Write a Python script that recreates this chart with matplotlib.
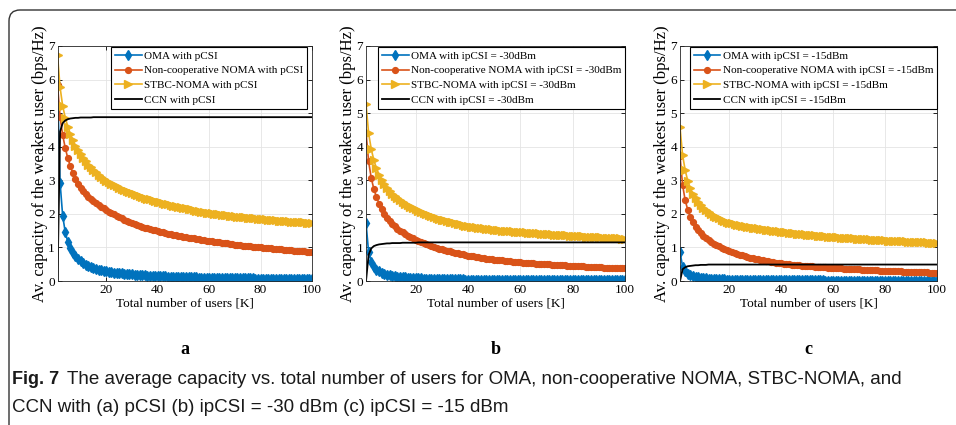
import matplotlib
matplotlib.use('Agg')
import matplotlib.pyplot as plt
import numpy as np
from matplotlib.patches import FancyBboxPatch
from matplotlib.transforms import IdentityTransform

# number of users K (one point per user count)
K = np.arange(1, 101)

# ---- (a) pCSI ----
oma_a = [5.85, 2.93, 1.95, 1.46, 1.17, 0.98, 0.84, 0.73, 0.65, 0.59,
         0.53, 0.49, 0.45, 0.42, 0.39, 0.37, 0.34, 0.33, 0.31, 0.29,
         0.28, 0.27, 0.25, 0.24, 0.23, 0.23, 0.22, 0.21, 0.20, 0.20,
         0.19, 0.18, 0.18, 0.17, 0.17, 0.16, 0.16, 0.15, 0.15, 0.15,
         0.14, 0.14, 0.14, 0.13, 0.13, 0.13, 0.12, 0.12, 0.12, 0.12,
         0.11, 0.11, 0.11, 0.11, 0.11, 0.10, 0.10, 0.10, 0.10, 0.10,
         0.10, 0.09, 0.09, 0.09, 0.09, 0.09, 0.09, 0.09, 0.08, 0.08,
         0.08, 0.08, 0.08, 0.08, 0.08, 0.08, 0.08, 0.07, 0.07, 0.07,
         0.07, 0.07, 0.07, 0.07, 0.07, 0.07, 0.07, 0.07, 0.07, 0.07,
         0.06, 0.06, 0.06, 0.06, 0.06, 0.06, 0.06, 0.06, 0.06, 0.06]
noma_a = [5.85, 4.89, 4.35, 3.97, 3.66, 3.42, 3.21, 3.04, 2.90, 2.78,
          2.68, 2.58, 2.50, 2.43, 2.37, 2.31, 2.26, 2.21, 2.16, 2.11,
          2.07, 2.03, 1.99, 1.95, 1.91, 1.87, 1.83, 1.80, 1.76, 1.73,
          1.70, 1.67, 1.64, 1.62, 1.59, 1.57, 1.55, 1.53, 1.51, 1.49,
          1.47, 1.45, 1.43, 1.41, 1.40, 1.38, 1.37, 1.35, 1.34, 1.32,
          1.31, 1.29, 1.28, 1.27, 1.25, 1.24, 1.23, 1.22, 1.20, 1.19,
          1.18, 1.17, 1.16, 1.15, 1.14, 1.13, 1.12, 1.11, 1.09, 1.08,
          1.07, 1.06, 1.05, 1.05, 1.04, 1.03, 1.02, 1.02, 1.01, 1.00,
          0.99, 0.98, 0.97, 0.97, 0.96, 0.95, 0.94, 0.94, 0.93, 0.92,
          0.91, 0.91, 0.90, 0.90, 0.89, 0.88, 0.88, 0.87, 0.87, 0.86]
stbc_a = [6.73, 5.77, 5.22, 4.87, 4.60, 4.38, 4.19, 4.03, 3.89, 3.77,
          3.66, 3.56, 3.47, 3.39, 3.31, 3.24, 3.17, 3.11, 3.05, 2.99,
          2.95, 2.90, 2.86, 2.82, 2.78, 2.74, 2.71, 2.67, 2.64, 2.61,
          2.58, 2.55, 2.52, 2.50, 2.47, 2.45, 2.43, 2.40, 2.38, 2.36,
          2.34, 2.32, 2.30, 2.28, 2.26, 2.24, 2.22, 2.21, 2.19, 2.17,
          2.16, 2.14, 2.13, 2.11, 2.10, 2.08, 2.07, 2.06, 2.04, 2.03,
          2.02, 2.01, 2.00, 1.99, 1.98, 1.97, 1.96, 1.95, 1.94, 1.93,
          1.92, 1.91, 1.90, 1.90, 1.89, 1.88, 1.87, 1.87, 1.86, 1.85,
          1.84, 1.84, 1.83, 1.82, 1.82, 1.81, 1.80, 1.80, 1.79, 1.79,
          1.78, 1.77, 1.77, 1.76, 1.76, 1.75, 1.75, 1.74, 1.74, 1.73]
ccn_a = [0.00, 4.45, 4.70, 4.78, 4.82, 4.84, 4.85, 4.86, 4.86, 4.87,
         4.87, 4.87, 4.87, 4.87, 4.88, 4.88, 4.88, 4.88, 4.88, 4.88,
         4.88, 4.88, 4.88, 4.88, 4.88, 4.88, 4.88, 4.88, 4.88, 4.88,
         4.88, 4.88, 4.88, 4.88, 4.88, 4.88, 4.88, 4.88, 4.88, 4.88,
         4.88, 4.88, 4.88, 4.88, 4.88, 4.88, 4.88, 4.88, 4.88, 4.88,
         4.88, 4.88, 4.88, 4.88, 4.88, 4.88, 4.88, 4.88, 4.88, 4.88,
         4.88, 4.88, 4.88, 4.88, 4.88, 4.88, 4.88, 4.88, 4.88, 4.88,
         4.88, 4.88, 4.88, 4.88, 4.88, 4.88, 4.88, 4.88, 4.88, 4.88,
         4.88, 4.88, 4.88, 4.88, 4.88, 4.88, 4.88, 4.88, 4.88, 4.88,
         4.88, 4.88, 4.88, 4.88, 4.88, 4.88, 4.88, 4.88, 4.88, 4.88]

# ---- (b) ipCSI = -30 dBm ----
oma_b = [1.74, 0.85, 0.57, 0.43, 0.34, 0.29, 0.25, 0.22, 0.19, 0.17,
         0.16, 0.14, 0.13, 0.12, 0.11, 0.11, 0.10, 0.10, 0.09, 0.09,
         0.08, 0.08, 0.07, 0.07, 0.07, 0.07, 0.06, 0.06, 0.06, 0.06,
         0.06, 0.05, 0.05, 0.05, 0.05, 0.05, 0.05, 0.05, 0.04, 0.04,
         0.04, 0.04, 0.04, 0.04, 0.04, 0.04, 0.04, 0.03, 0.03, 0.03,
         0.03, 0.03, 0.03, 0.03, 0.03, 0.03, 0.03, 0.03, 0.03, 0.03,
         0.03, 0.03, 0.03, 0.03, 0.03, 0.03, 0.03, 0.03, 0.03, 0.03,
         0.02, 0.02, 0.02, 0.02, 0.02, 0.02, 0.02, 0.02, 0.02, 0.02,
         0.02, 0.02, 0.02, 0.02, 0.02, 0.02, 0.02, 0.02, 0.02, 0.02,
         0.02, 0.02, 0.02, 0.02, 0.02, 0.02, 0.02, 0.02, 0.02, 0.02]
noma_b = [4.42, 3.56, 3.07, 2.74, 2.50, 2.30, 2.14, 2.00, 1.89, 1.79,
          1.71, 1.63, 1.56, 1.50, 1.45, 1.40, 1.35, 1.31, 1.27, 1.23,
          1.19, 1.16, 1.13, 1.10, 1.07, 1.04, 1.01, 0.99, 0.96, 0.94,
          0.92, 0.90, 0.88, 0.86, 0.84, 0.82, 0.80, 0.79, 0.77, 0.75,
          0.74, 0.73, 0.72, 0.71, 0.70, 0.68, 0.67, 0.66, 0.65, 0.64,
          0.63, 0.63, 0.62, 0.61, 0.60, 0.59, 0.58, 0.58, 0.57, 0.56,
          0.55, 0.55, 0.54, 0.54, 0.53, 0.52, 0.52, 0.51, 0.51, 0.50,
          0.50, 0.49, 0.49, 0.48, 0.48, 0.47, 0.47, 0.46, 0.46, 0.45,
          0.45, 0.44, 0.44, 0.44, 0.43, 0.43, 0.42, 0.42, 0.42, 0.41,
          0.41, 0.40, 0.40, 0.40, 0.39, 0.39, 0.39, 0.38, 0.38, 0.38]
stbc_b = [5.28, 4.40, 3.93, 3.60, 3.36, 3.17, 3.01, 2.88, 2.77, 2.68,
          2.60, 2.53, 2.46, 2.40, 2.35, 2.30, 2.25, 2.21, 2.17, 2.13,
          2.10, 2.06, 2.03, 2.00, 1.97, 1.94, 1.91, 1.88, 1.86, 1.83,
          1.81, 1.79, 1.77, 1.75, 1.73, 1.71, 1.69, 1.67, 1.65, 1.63,
          1.62, 1.61, 1.60, 1.59, 1.58, 1.57, 1.56, 1.55, 1.54, 1.53,
          1.52, 1.51, 1.50, 1.50, 1.49, 1.48, 1.48, 1.47, 1.47, 1.46,
          1.45, 1.45, 1.44, 1.43, 1.43, 1.42, 1.42, 1.41, 1.41, 1.40,
          1.40, 1.39, 1.38, 1.38, 1.37, 1.37, 1.36, 1.36, 1.35, 1.35,
          1.34, 1.34, 1.33, 1.33, 1.32, 1.32, 1.31, 1.31, 1.30, 1.30,
          1.30, 1.29, 1.29, 1.28, 1.28, 1.27, 1.27, 1.27, 1.26, 1.26]
ccn_b = [0.00, 0.78, 0.97, 1.04, 1.07, 1.09, 1.10, 1.11, 1.12, 1.12,
         1.13, 1.13, 1.13, 1.13, 1.14, 1.14, 1.14, 1.14, 1.14, 1.14,
         1.15, 1.15, 1.15, 1.15, 1.15, 1.15, 1.15, 1.15, 1.15, 1.15,
         1.15, 1.15, 1.15, 1.15, 1.15, 1.15, 1.15, 1.15, 1.15, 1.15,
         1.15, 1.15, 1.15, 1.15, 1.15, 1.15, 1.15, 1.15, 1.15, 1.15,
         1.15, 1.15, 1.15, 1.15, 1.15, 1.15, 1.15, 1.15, 1.15, 1.15,
         1.15, 1.15, 1.15, 1.15, 1.15, 1.15, 1.15, 1.15, 1.15, 1.15,
         1.15, 1.15, 1.15, 1.15, 1.15, 1.15, 1.15, 1.15, 1.15, 1.15,
         1.15, 1.15, 1.15, 1.15, 1.15, 1.15, 1.15, 1.15, 1.15, 1.15,
         1.15, 1.15, 1.15, 1.15, 1.15, 1.15, 1.15, 1.15, 1.15, 1.15]

# ---- (c) ipCSI = -15 dBm ----
oma_c = [0.86, 0.43, 0.29, 0.21, 0.17, 0.14, 0.12, 0.11, 0.09, 0.09,
         0.08, 0.07, 0.07, 0.06, 0.06, 0.05, 0.05, 0.05, 0.04, 0.04,
         0.04, 0.04, 0.04, 0.04, 0.03, 0.03, 0.03, 0.03, 0.03, 0.03,
         0.03, 0.03, 0.03, 0.03, 0.02, 0.02, 0.02, 0.02, 0.02, 0.02,
         0.02, 0.02, 0.02, 0.02, 0.02, 0.02, 0.02, 0.02, 0.02, 0.02,
         0.02, 0.02, 0.02, 0.02, 0.02, 0.02, 0.01, 0.01, 0.01, 0.01,
         0.01, 0.01, 0.01, 0.01, 0.01, 0.01, 0.01, 0.01, 0.01, 0.01,
         0.01, 0.01, 0.01, 0.01, 0.01, 0.01, 0.01, 0.01, 0.01, 0.01,
         0.01, 0.01, 0.01, 0.01, 0.01, 0.01, 0.01, 0.01, 0.01, 0.01,
         0.01, 0.01, 0.01, 0.01, 0.01, 0.01, 0.01, 0.01, 0.01, 0.01]
noma_c = [3.72, 2.86, 2.40, 2.12, 1.91, 1.75, 1.62, 1.52, 1.43, 1.35,
          1.28, 1.22, 1.16, 1.11, 1.07, 1.03, 0.99, 0.96, 0.92, 0.89,
          0.86, 0.83, 0.81, 0.78, 0.76, 0.74, 0.72, 0.70, 0.68, 0.66,
          0.65, 0.63, 0.62, 0.60, 0.59, 0.58, 0.56, 0.55, 0.54, 0.53,
          0.52, 0.51, 0.50, 0.49, 0.49, 0.48, 0.47, 0.46, 0.46, 0.45,
          0.44, 0.44, 0.43, 0.43, 0.42, 0.41, 0.41, 0.40, 0.40, 0.39,
          0.39, 0.38, 0.38, 0.37, 0.37, 0.36, 0.36, 0.36, 0.35, 0.35,
          0.34, 0.34, 0.33, 0.33, 0.33, 0.32, 0.32, 0.31, 0.31, 0.31,
          0.30, 0.30, 0.30, 0.29, 0.29, 0.29, 0.28, 0.28, 0.28, 0.27,
          0.27, 0.27, 0.26, 0.26, 0.26, 0.26, 0.25, 0.25, 0.25, 0.25]
stbc_c = [4.58, 3.75, 3.30, 2.98, 2.76, 2.59, 2.46, 2.35, 2.26, 2.18,
          2.11, 2.05, 2.00, 1.95, 1.91, 1.87, 1.83, 1.80, 1.77, 1.74,
          1.72, 1.70, 1.68, 1.67, 1.65, 1.63, 1.62, 1.60, 1.59, 1.58,
          1.57, 1.56, 1.54, 1.53, 1.52, 1.51, 1.50, 1.49, 1.48, 1.47,
          1.46, 1.45, 1.44, 1.43, 1.42, 1.41, 1.40, 1.40, 1.39, 1.38,
          1.37, 1.36, 1.36, 1.35, 1.34, 1.34, 1.33, 1.32, 1.32, 1.31,
          1.30, 1.30, 1.29, 1.29, 1.28, 1.28, 1.27, 1.27, 1.26, 1.26,
          1.25, 1.25, 1.24, 1.24, 1.23, 1.23, 1.22, 1.22, 1.21, 1.21,
          1.20, 1.20, 1.20, 1.19, 1.19, 1.18, 1.18, 1.18, 1.17, 1.17,
          1.16, 1.16, 1.16, 1.15, 1.15, 1.15, 1.14, 1.14, 1.13, 1.13]
ccn_c = [0.00, 0.35, 0.41, 0.44, 0.45, 0.46, 0.47, 0.47, 0.48, 0.48,
         0.48, 0.49, 0.49, 0.49, 0.49, 0.49, 0.49, 0.49, 0.49, 0.49,
         0.49, 0.49, 0.49, 0.49, 0.49, 0.49, 0.49, 0.49, 0.49, 0.49,
         0.49, 0.49, 0.49, 0.49, 0.49, 0.49, 0.49, 0.49, 0.49, 0.49,
         0.49, 0.49, 0.49, 0.49, 0.49, 0.49, 0.49, 0.49, 0.49, 0.49,
         0.49, 0.49, 0.49, 0.49, 0.49, 0.49, 0.49, 0.49, 0.49, 0.49,
         0.49, 0.49, 0.49, 0.49, 0.49, 0.49, 0.49, 0.49, 0.49, 0.49,
         0.49, 0.49, 0.49, 0.49, 0.49, 0.49, 0.49, 0.49, 0.49, 0.49,
         0.49, 0.49, 0.49, 0.49, 0.49, 0.49, 0.49, 0.49, 0.49, 0.49,
         0.49, 0.49, 0.49, 0.49, 0.49, 0.49, 0.49, 0.49, 0.49, 0.49]

suffixes = ['pCSI', 'ipCSI = -30dBm', 'ipCSI = -15dBm']
panel_letters = ['a', 'b', 'c']
series = [(oma_a, noma_a, stbc_a, ccn_a),
          (oma_b, noma_b, stbc_b, ccn_b),
          (oma_c, noma_c, stbc_c, ccn_c)]

caption1 = ('The average capacity vs. total number of users for OMA, '
            'non-cooperative NOMA, STBC-NOMA, and')
caption2 = 'CCN with (a) pCSI (b) ipCSI = -30 dBm (c) ipCSI = -15 dBm'

plt.rcParams['font.family'] = ['Liberation Serif', 'DejaVu Serif']
SANS = ['Liberation Sans Narrow', 'Liberation Sans', 'DejaVu Sans']

W, H = 956, 425
fig = plt.figure(figsize=(W / 100, H / 100), dpi=100)

# axes boxes in pixels: left, right, top, bottom
boxes = [(57.5, 312, 46, 281), (366, 625, 46, 281), (680, 937, 46, 281)]
legend_anchor = [(307, 47), (625, 47), (937, 47)]

for i, (l, r, t, b) in enumerate(boxes):
    ax = fig.add_axes([l / W, 1 - b / H, (r - l) / W, (b - t) / H])
    oma, noma, stbc, ccn = series[i]
    s = suffixes[i]
    ax.plot(K, oma, color='#0072BD', marker='d', ms=4.6, lw=1.2,
            label='OMA with ' + s)
    ax.plot(K, noma, color='#D95319', marker='o', ms=4.2, lw=1.2,
            label='Non-cooperative NOMA with ' + s)
    ax.plot(K, stbc, color='#EDB120', marker='>', ms=5.2, lw=1.2,
            label='STBC-NOMA with ' + s)
    ax.plot(K, ccn, color='black', lw=1.3, label='CCN with ' + s)

    ax.set_xlim(1, 100)
    ax.set_ylim(0, 7)
    ax.set_xticks([20, 40, 60, 80, 100])
    ax.set_yticks(range(8))
    ax.grid(True, color='#e4e4e4', lw=0.6)
    ax.set_axisbelow(True)
    ax.tick_params(direction='in', top=True, right=True, length=3,
                   width=0.6, labelsize=9.5, pad=2)
    for sp in ax.spines.values():
        sp.set_linewidth(0.6)
        sp.set_color('#262626')
    ax.set_xlabel('Total number of users [K]', fontsize=9.5, labelpad=1)
    ax.set_ylabel('Av. capacity of the weakest user (bps/Hz)',
                  fontsize=12, labelpad=0)

    ax_, ay_ = legend_anchor[i]
    leg = ax.legend(loc='upper right', bbox_to_anchor=(ax_ / W, 1 - ay_ / H),
                    bbox_transform=fig.transFigure, borderaxespad=0,
                    fontsize=8, fancybox=False, framealpha=1,
                    edgecolor='black', handlelength=2.4, handletextpad=0.2,
                    labelspacing=0.45, borderpad=0.35)
    leg.get_frame().set_linewidth(0.8)

    fig.text((l + r) / 2 / W, 1 - 350 / H, panel_letters[i], fontsize=13,
             fontweight='bold', ha='center', va='center')

# rounded frame around the figure panel (runs off right and bottom)
frame = FancyBboxPatch((9, -60), 1100, 415 + 60,
                       boxstyle='round,pad=0,rounding_size=11',
                       transform=IdentityTransform(), fill=False,
                       ec='#333333', lw=1.0)
fig.add_artist(frame)

# caption
t1 = fig.text(12 / W, 1 - 380 / H, 'Fig. 7', fontsize=13, fontweight='bold',
              family=SANS, va='center', color='#1a1a1a')
fig.canvas.draw()
bb = t1.get_window_extent()
x2 = bb.x1 + 8
t2 = fig.text(x2 / W, 1 - 380 / H, caption1, fontsize=13, family=SANS,
              va='center', color='#1a1a1a')
t3 = fig.text(12 / W, 1 - 407 / H, caption2, fontsize=13, family=SANS,
              va='center', color='#1a1a1a')
fig.canvas.draw()
w2 = t2.get_window_extent().width
scale = (898 - x2) / w2
t2.set_fontsize(13 * scale)
t3.set_fontsize(13 * scale)

fig.savefig('out.png', dpi=100)
